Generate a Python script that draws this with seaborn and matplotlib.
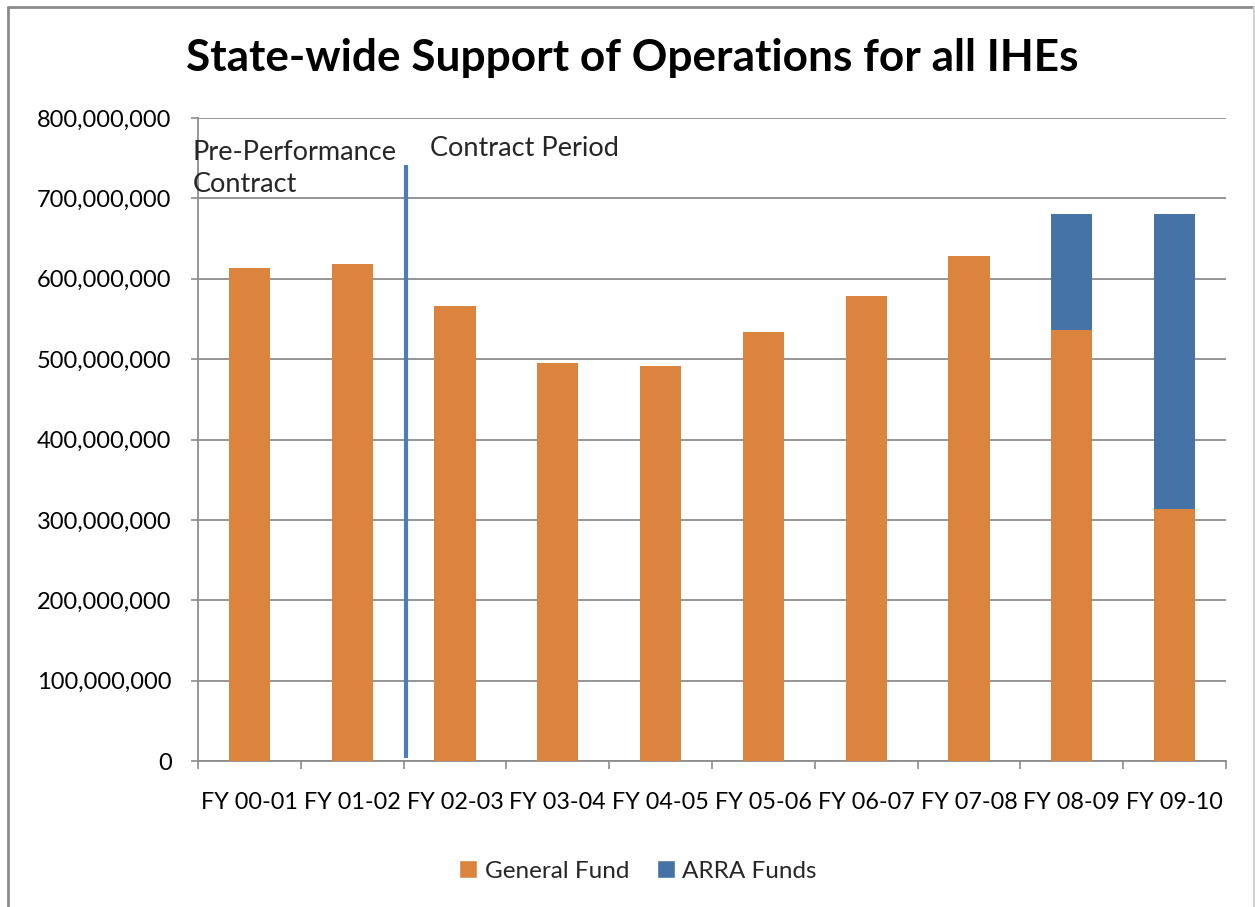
import matplotlib
matplotlib.use("Agg")
import matplotlib.pyplot as plt
from matplotlib.lines import Line2D
from matplotlib.patches import Patch
from matplotlib.ticker import FuncFormatter, FixedLocator
import seaborn as sns
import pandas as pd

# Fiscal years and funding (dollars)
years = ["FY 00-01", "FY 01-02", "FY 02-03", "FY 03-04", "FY 04-05",
         "FY 05-06", "FY 06-07", "FY 07-08", "FY 08-09", "FY 09-10"]
general_fund = [613.0e6, 618.5e6, 566.6e6, 495.6e6, 491.5e6,
                534.0e6, 579.0e6, 628.6e6, 536.4e6, 313.7e6]
arra_funds = [0, 0, 0, 0, 0, 0, 0, 0, 144.1e6, 366.8e6]
y_ticks = [0, 100e6, 200e6, 300e6, 400e6, 500e6, 600e6, 700e6, 800e6]

ORANGE = "#DB843D"
BLUE = "#4572A7"
LINE_BLUE = "#4A7EBB"
GRID = "#8C8C8C"

df = pd.DataFrame({
    "year": years,
    "general": general_fund,
    "arra": arra_funds,
})
df["total"] = df["general"] + df["arra"]

sns.set_style("white")
plt.rcParams["font.family"] = ["Lato", "DejaVu Sans"]

fig = plt.figure(figsize=(12.55, 9.07), dpi=100)
ax = fig.add_axes([198 / 1255, 146 / 907, 1028 / 1255, 643 / 907])

# stacked bars: full height in blue, general fund drawn over it in orange
sns.barplot(data=df, x="year", y="total", color=BLUE, saturation=1,
            width=0.4, errorbar=None, linewidth=0, ax=ax, zorder=3)
sns.barplot(data=df, x="year", y="general", color=ORANGE, saturation=1,
            width=0.4, errorbar=None, linewidth=0, ax=ax, zorder=4)

ax.set_xlim(-0.5, len(years) - 0.5)
ax.set_ylim(0, 800e6)
ax.set_yticks(y_ticks)
ax.yaxis.set_major_formatter(FuncFormatter(lambda v, _: f"{v:,.0f}"))
ax.set_xlabel("")
ax.set_ylabel("")

ax.yaxis.grid(True, color=GRID, linewidth=1.3, zorder=0)
ax.set_axisbelow(True)
for side in ("top", "right"):
    ax.spines[side].set_visible(False)
for side in ("left", "bottom"):
    ax.spines[side].set_color(GRID)
    ax.spines[side].set_linewidth(1.3)

ax.tick_params(axis="y", which="major", length=5, width=1.2, color=GRID,
               pad=14, labelsize=17, labelcolor="black", left=True)
ax.tick_params(axis="x", which="major", length=0, pad=22, labelsize=16.8,
               labelcolor="black")
ax.xaxis.set_minor_locator(FixedLocator([i - 0.5 for i in range(len(years) + 1)]))
ax.tick_params(axis="x", which="minor", length=6, width=1.2, color=GRID,
               bottom=True)

# boundary between pre-performance and contract periods
ax.plot([1.523, 1.523], [3.7e6, 741e6], color=LINE_BLUE, linewidth=3,
        solid_capstyle="butt", zorder=5)
ax.text(-0.549, 737e6, "Pre-Performance\nContract", ha="left", va="center",
        fontsize=19.5, linespacing=1.38, clip_on=False, zorder=6)
ax.text(1.757, 762e6, "Contract Period", ha="left", va="center",
        fontsize=19.5, clip_on=False, zorder=6)

fig.text(632 / 1255, 1 - 58 / 907,
         "State-wide Support of Operations for all IHEs",
         ha="center", va="center", fontsize=31.8, fontweight="bold",
         color="black")

handles = [Patch(facecolor=ORANGE, label="General Fund"),
           Patch(facecolor=BLUE, label="ARRA Funds")]
fig.legend(handles=handles, loc="center", bbox_to_anchor=(638 / 1255, 1 - 871 / 907),
           ncol=2, frameon=False, fontsize=17.5, handlelength=0.75,
           handleheight=0.75, handletextpad=0.3, columnspacing=1.15)

# chart area outline
fig.add_artist(Line2D([8 / 1255, 8 / 1255], [0, 1 - 7 / 907],
                      transform=fig.transFigure, color="#8C8C8C", linewidth=2))
fig.add_artist(Line2D([8 / 1255, 1], [1 - 7 / 907, 1 - 7 / 907],
                      transform=fig.transFigure, color="#8C8C8C", linewidth=2))
fig.add_artist(Line2D([1254 / 1255, 1254 / 1255], [0, 1 - 7 / 907],
                      transform=fig.transFigure, color="#D0D0D0", linewidth=1.5))

fig.savefig("out.png", dpi=100)
